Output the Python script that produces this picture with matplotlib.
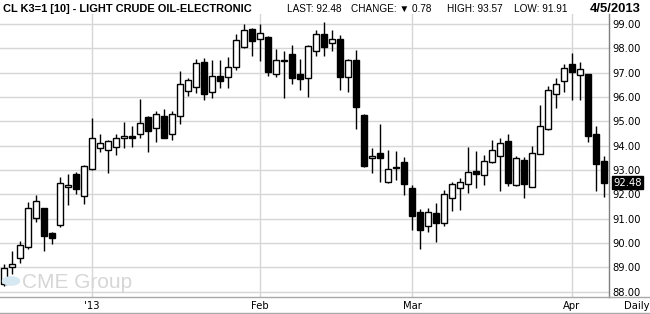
import matplotlib
matplotlib.use("Agg")
import matplotlib.pyplot as plt
from matplotlib.lines import Line2D
from matplotlib.patches import Circle
import pandas as pd

# daily OHLC, CL K3 (light crude, electronic), 14 Dec 2012 .. 5 Apr 2013
opens = [88.30, 89.03, 89.37, 89.85, 91.02, 91.43, 90.42, 90.73, 92.29, 92.84,
         91.93, 93.04, 93.91, 93.83, 93.95, 94.30, 94.41, 94.46, 95.19, 94.74,
         95.23, 94.49, 95.23, 96.24, 96.43, 97.42, 96.19, 96.85, 96.83, 97.25,
         98.04, 98.78, 98.37, 98.46, 96.96, 97.46, 97.76, 96.94, 96.80, 97.91,
         98.57, 98.20, 98.37, 96.83, 97.50, 95.24, 93.50, 93.70, 92.49, 93.14,
         93.31, 92.26, 91.28, 90.71, 91.23, 90.84, 91.85, 92.26, 92.43, 92.96,
         92.80, 93.33, 93.57, 94.21, 92.38, 93.43, 92.32, 93.66, 94.68, 96.14,
         96.65, 97.35, 96.92, 96.94, 94.49, 93.37]
highs = [89.12, 89.65, 90.09, 91.70, 91.98, 91.45, 90.45, 92.73, 92.84, 92.93,
         93.22, 95.12, 94.49, 94.25, 94.46, 94.96, 94.82, 95.91, 95.20, 95.42,
         95.52, 95.42, 97.06, 96.80, 97.57, 97.60, 97.54, 97.51, 97.64, 98.59,
         99.01, 98.82, 99.00, 98.50, 97.97, 97.89, 98.13, 97.58, 98.12, 98.75,
         99.10, 98.75, 98.55, 97.58, 97.93, 95.31, 93.92, 94.90, 93.84, 93.76,
         93.55, 92.40, 91.38, 91.43, 91.63, 92.18, 92.49, 92.65, 93.94, 93.80,
         93.61, 94.24, 94.32, 94.46, 93.59, 93.53, 93.97, 95.66, 96.44, 96.80,
         97.35, 97.79, 97.43, 96.95, 94.82, 93.57]
lows = [88.25, 88.71, 89.19, 89.77, 90.87, 89.65, 89.95, 90.64, 91.56, 92.01,
        91.60, 93.00, 93.73, 92.87, 93.61, 93.90, 93.94, 94.32, 93.73, 94.14,
        94.30, 94.24, 94.90, 96.06, 96.18, 95.89, 95.97, 96.37, 96.37, 97.12,
        98.00, 97.69, 97.49, 96.87, 96.83, 95.97, 96.55, 96.29, 96.00, 97.69,
        97.69, 97.90, 96.28, 96.21, 94.68, 93.11, 92.87, 92.49, 92.45, 92.59,
        91.97, 90.53, 89.77, 90.47, 90.02, 90.71, 91.30, 91.35, 92.04, 92.25,
        92.37, 93.30, 92.12, 92.33, 92.36, 91.85, 92.30, 93.64, 94.63, 95.55,
        96.21, 95.86, 95.86, 94.14, 92.12, 91.91]
closes = [88.96, 89.12, 89.91, 91.43, 91.72, 90.27, 90.22, 92.47, 92.40, 92.20,
          93.15, 94.32, 94.10, 94.20, 94.32, 94.38, 94.31, 94.94, 94.60, 95.30,
          94.32, 95.30, 96.55, 96.70, 97.38, 96.14, 96.88, 96.66, 97.25, 98.33,
          98.74, 98.31, 98.61, 97.03, 97.50, 97.54, 96.79, 96.74, 98.09, 98.57,
          98.06, 98.37, 96.83, 97.50, 95.59, 93.18, 93.59, 93.50, 93.04, 93.09,
          92.43, 91.09, 90.53, 91.28, 90.84, 92.01, 92.43, 92.51, 92.92, 92.84,
          93.37, 93.83, 94.12, 92.45, 93.50, 92.43, 93.69, 94.82, 96.30, 96.55,
          97.21, 97.01, 97.17, 94.38, 93.26, 92.48]

holidays = ["2012-12-25", "2013-01-01", "2013-01-21", "2013-02-18", "2013-03-29"]
dates = pd.bdate_range("2012-12-14", "2013-04-05", freq="C", holidays=holidays)

month_labels = ["'13", "Feb", "Mar", "Apr"]
header = [("LAST: 92.48", 287), ("CHANGE: \u25bc 0.78", 351),
          ("HIGH: 93.57", 447), ("LOW: 91.91", 514)]

W, H = 650, 314


def fx(x):
    return x / W


def fy(y):
    return 1 - y / H


fig = plt.figure(figsize=(6.5, 3.14), dpi=100)
ax = fig.add_axes([0, fy(297), fx(609), (297 - 14) / H])

x = list(range(len(dates)))
body_bottom = [min(o, c) for o, c in zip(opens, closes)]
body_height = [max(abs(c - o), 0.02) for o, c in zip(opens, closes)]
face = ["white" if c >= o else "black" for o, c in zip(opens, closes)]

ax.vlines(x, lows, highs, color="black", lw=1.0, zorder=2)
ax.bar(x, body_height, bottom=body_bottom, width=0.66, color=face,
       edgecolor="black", linewidth=1.0, zorder=3)

ax.set_xlim(-0.5, 75.625)
ax.set_ylim(87.78, 99.41)

# month starts
starts = [i for i in range(1, len(dates)) if dates[i].month != dates[i - 1].month]
ax.set_xticks(starts, month_labels)
ax.set_yticks(range(88, 100))
ax.yaxis.tick_right()
ax.yaxis.set_major_formatter(plt.FormatStrFormatter("%.2f"))
ax.tick_params(axis="both", length=0, labelsize=7.2, colors="black")
ax.tick_params(axis="y", pad=2.2)
ax.tick_params(axis="x", pad=3.0)
ax.grid(True, color="#d6d6d6", lw=1.0, zorder=0)
ax.set_axisbelow(True)

for side in ["top", "left"]:
    ax.spines[side].set_visible(False)
ax.spines["right"].set_color("#7f7f7f")
ax.spines["right"].set_linewidth(1.0)
ax.spines["bottom"].set_color("#a8a8a8")
ax.spines["bottom"].set_linewidth(1.0)

# last price marker on the price axis
ax.text(1 + 4 / 609, 92.48, "92.48", transform=ax.get_yaxis_transform(),
        color="white", fontsize=7.2, va="center", ha="left", clip_on=False,
        bbox=dict(boxstyle="square,pad=0.12", fc="black", ec="black"))

# bottom frame lines and "Daily"
fig.add_artist(Line2D([fx(609), 1], [fy(297), fy(297)], color="#a8a8a8", lw=1.0))
fig.add_artist(Line2D([0, 1], [fy(313), fy(313)], color="#a8a8a8", lw=1.0))
fig.text(fx(637), fy(306), "Daily", fontsize=7.2, ha="center", va="center")

# header
fig.text(fx(3), fy(12.5), "CL K3=1 [10] - LIGHT CRUDE OIL-ELECTRONIC",
         family="Liberation Sans", weight="bold", fontsize=7.9,
         va="baseline", ha="left")
for txt, xpos in header:
    fig.text(fx(xpos), fy(11.5), txt, family=["Liberation Sans", "DejaVu Sans"],
             fontsize=7.2, va="baseline", ha="left")
fig.text(fx(641), fy(12.5), "4/5/2013", family="Liberation Sans",
         weight="bold", fontsize=9.4, va="baseline", ha="right")

# watermark
fig.add_artist(Circle((fx(11), fy(281)), 8.5 / W, color="#d6e8f2",
                      transform=fig.transFigure))
fig.text(fx(22), fy(287.5), "CME Group", fontsize=15, color="#d6d6d6",
         family="Liberation Sans", va="baseline", ha="left", zorder=1)

fig.savefig("out.png", dpi=100)
